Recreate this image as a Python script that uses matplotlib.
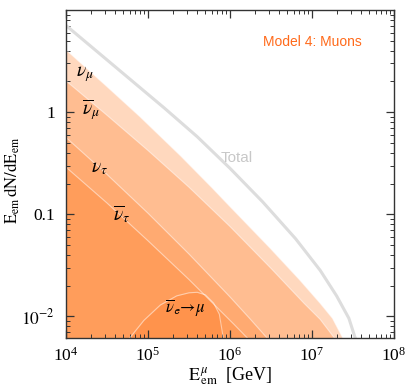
import numpy as np
import matplotlib
matplotlib.use('Agg')
import matplotlib.pyplot as plt
from matplotlib.ticker import FixedLocator, LogLocator, FuncFormatter, NullFormatter

plt.rcParams['font.family'] = ['Liberation Serif', 'DejaVu Serif']
plt.rcParams['mathtext.fontset'] = 'stix'

# curves, as (log10 E, log10 E dN/dE)
total_lx = [4.0, 4.4, 4.8, 5.2, 5.6, 6.0, 6.4, 6.8, 7.1, 7.3, 7.45, 7.53]
total_ly = [0.85, 0.58, 0.31, 0.04, -0.24, -0.55, -0.88, -1.24, -1.55, -1.80, -2.02, -2.22]

numu_lx = [4.0, 4.5, 4.9, 5.4, 5.78, 6.0, 6.49, 6.85, 7.1, 7.25, 7.38]
numu_ly = [0.611, 0.25, -0.043, -0.43, -0.74, -0.925, -1.333, -1.644, -1.873, -2.02, -2.22]

numubar_lx = [4.0, 4.5, 5.0, 5.5, 6.0, 6.5, 6.9, 7.1, 7.28]
numubar_ly = [0.307, -0.03, -0.375, -0.735, -1.12, -1.53, -1.87, -2.03, -2.22]

nutau_lx = [4.0, 4.5, 5.0, 5.5, 6.0, 6.25, 6.46]
nutau_ly = [-0.248, -0.61, -0.99, -1.39, -1.81, -2.03, -2.22]

nutaubar_lx = [4.0, 4.5, 5.0, 5.5, 5.8, 6.05, 6.22]
nutaubar_ly = [-0.539, -0.89, -1.26, -1.64, -1.88, -2.08, -2.22]

nuebar_lx = [4.77, 4.95, 5.15, 5.35, 5.5, 5.6, 5.7, 5.8, 5.87, 5.92]
nuebar_ly = [-2.22, -2.04, -1.89, -1.80, -1.77, -1.765, -1.79, -1.87, -1.98, -2.22]

bands = [(numu_lx, numu_ly), (numubar_lx, numubar_ly), (nutau_lx, nutau_ly),
         (nutaubar_lx, nutaubar_ly), (nuebar_lx, nuebar_ly)]

fig = plt.figure(figsize=(4.11, 3.87), dpi=100)
ax = fig.add_axes([0.1606, 0.1258, 0.798, 0.848])

for lx, ly in bands:
    x = 10 ** np.array(lx)
    y = 10 ** np.array(ly)
    ax.fill_between(x, 1e-4, y, color='#ff7f2a', alpha=0.3, lw=0)
    ax.plot(x, y, color='white', lw=0.8, alpha=0.5)

ax.plot(10 ** np.array(total_lx), 10 ** np.array(total_ly), color='#dddddd', lw=2.2)

ax.set_xscale('log')
ax.set_yscale('log')
ax.set_xlim(1e4, 1e8)
ax.set_ylim(10 ** -2.216, 10)

ax.yaxis.set_major_locator(FixedLocator([1e-2, 1e-1, 1]))
ylabels = {1e-2: r'$10^{-2}$', 1e-1: '0.1', 1: '1'}
ax.yaxis.set_major_formatter(FuncFormatter(lambda v, p: ylabels.get(v, '')))
ax.yaxis.set_minor_locator(LogLocator(base=10, subs=np.arange(2, 10), numticks=20))
ax.yaxis.set_minor_formatter(NullFormatter())
ax.xaxis.set_minor_locator(LogLocator(base=10, subs=np.arange(2, 10), numticks=20))
ax.xaxis.set_minor_formatter(NullFormatter())

ax.tick_params(which='both', direction='in', top=True, right=True, labelsize=12.5, color='#333333')
ax.tick_params(which='major', length=6, width=0.9)
ax.tick_params(which='minor', length=3, width=0.7)
ax.tick_params(axis='x', pad=6)
ax.tick_params(axis='y', pad=8)
for s in ax.spines.values():
    s.set_color('#333333')
    s.set_linewidth(1.0)

ax.set_xlabel(r'$\mathrm{E}_{\,\mathrm{em}}^{\,\mu}$  [GeV]', fontsize=13)
ax.xaxis.set_label_coords(0.5, -0.082)
ax.set_ylabel(r'$\mathrm{E}_{\mathrm{em}}\,\mathrm{dN/dE}_{\mathrm{em}}$', fontsize=12)
ax.yaxis.set_label_coords(-0.135, 0.48)

# curve labels
ax.text(10 ** 4.23, 10 ** 0.37, r'$\nu_\mu$', fontsize=14, ha='center', va='center')
ax.text(10 ** 4.31, 10 ** 0.02, r'$\overline{\nu}_\mu$', fontsize=14, ha='center', va='center')
ax.text(10 ** 4.41, 10 ** -0.55, r'$\nu_\tau$', fontsize=14, ha='center', va='center')
ax.text(10 ** 4.68, 10 ** -1.0, r'$\overline{\nu}_\tau$', fontsize=14, ha='center', va='center')
ax.text(10 ** 5.45, 10 ** -1.92, r'$\overline{\nu}_{\mathsf{e}}\!\rightarrow\!\mu$', fontsize=12,
        ha='center', va='center')
ax.text(10 ** 6.085, 10 ** -0.445, 'Total', fontsize=11, color='#c8c8c8', ha='center', va='center',
        family='Liberation Sans')
ax.text(10 ** 7.0, 10 ** 0.685, 'Model 4: Muons', fontsize=10, color='#ff6a1a', ha='center',
        va='center', family='Liberation Sans')

plt.savefig('out.png', dpi=100)
